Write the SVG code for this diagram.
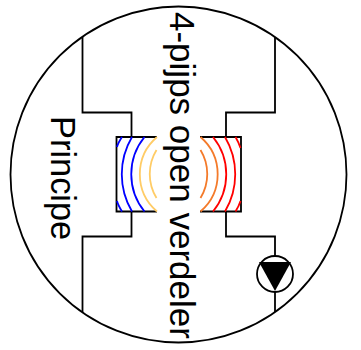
<svg xmlns="http://www.w3.org/2000/svg" width="361" height="350" viewBox="0 0 361 350">
<style>
.l{fill:none;stroke:#000;stroke-width:1.8}
.a{fill:none;stroke-width:1.8}
.t{font-family:"Liberation Sans",Arial,sans-serif;font-size:35px;fill:#000}
</style>
<rect width="361" height="350" fill="#fff"/>
<g id="boundary"><circle class="l" cx="178.500" cy="174.500" r="168"/></g>
<g id="connectors">
<path class="l" d="M82.500 37V112.500H131.500V137"/>
<path class="l" d="M275 37V112.500H226V137"/>
<path class="l" d="M131.500 211.500V236.500H82.500V312"/>
<path class="l" d="M226 211.500V236.500H275V256"/>
<path class="l" d="M275 292V312"/>
</g>
<g id="left-box">
<path class="l" d="M157 137H116.500V211.500H157"/>
<path class="a" stroke="#0000ff" d="M122 137Q118 143 117 147M117 201Q118 205 122 211.500"/>
<path class="a" stroke="#0000ff" d="M132 137A73 73 0 0 0 132 211.500"/>
<path class="a" stroke="#0000ff" d="M144.500 137A59 59 0 0 0 144.500 211.500"/>
<path class="a" stroke="#ffcc66" d="M157 137A49 49 0 0 0 157 211.500"/>
<path class="a" stroke="#ffcc66" d="M156.500 150A46 46 0 0 0 156.500 198"/>
</g>
<g id="right-box">
<path class="l" d="M200 137H241V211.500H200"/>
<path class="a" stroke="#ff0000" d="M235.500 137Q239 143 240.500 148M240.500 201Q239 206 235.500 211.500"/>
<path class="a" stroke="#ff0000" d="M225 137A73 73 0 0 1 225 211.500"/>
<path class="a" stroke="#ff0000" d="M213 137A59 59 0 0 1 213 211.500"/>
<path class="a" stroke="#f47a2a" d="M200.500 137A49 49 0 0 1 200.500 211.500"/>
<path class="a" stroke="#f47a2a" d="M200.500 150A46 46 0 0 1 200.500 198"/>
</g>
<g id="pump">
<circle class="l" cx="275" cy="274" r="18"/>
<path d="M259 262H291L275 291Z" fill="#000"/>
</g>
<g id="label-title"><text class="t" transform="translate(170 12) rotate(90)">4-pijps open verdeler</text></g>
<g id="label-principe"><text class="t" style="font-size:34.400px" transform="translate(51 116) rotate(90)">Principe</text></g>
</svg>
